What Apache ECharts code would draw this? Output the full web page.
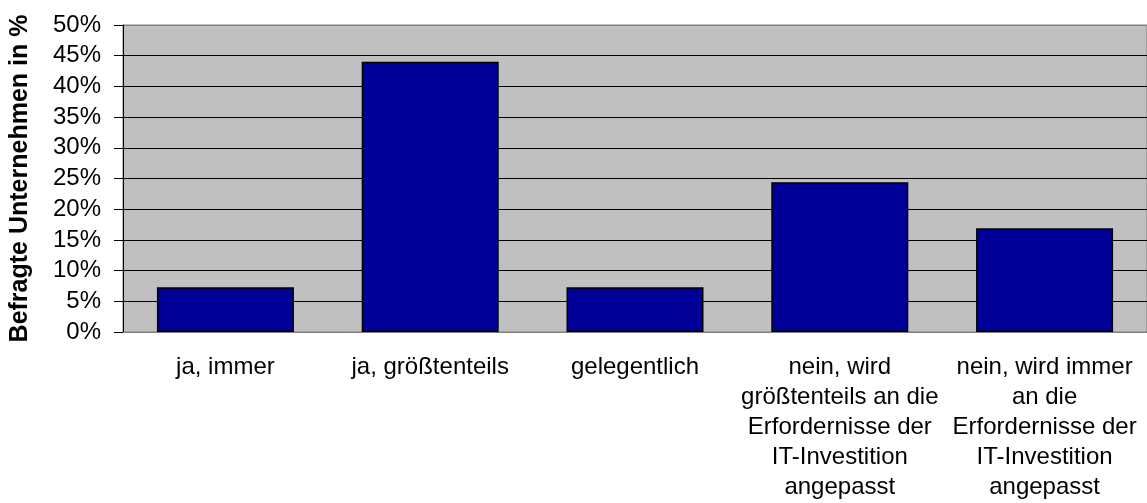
<!DOCTYPE html>
<html>
<head>
<meta charset="utf-8">
<script src="https://cdn.jsdelivr.net/npm/echarts@6/dist/echarts.min.js"></script>
<style>
html,body{margin:0;padding:0;background:#fff;overflow:hidden;}
#c{width:1147px;height:503px;}
</style>
</head>
<body>
<div id="c"></div>
<script>
const categories = [
  "ja, immer",
  "ja, größtenteils",
  "gelegentlich",
  "nein, wird\ngrößtenteils an die\nErfordernisse der\nIT-Investition\nangepasst",
  "nein, wird immer\nan die\nErfordernisse der\nIT-Investition\nangepasst"
];
const values = [7.3, 44.0, 7.3, 24.4, 16.9];
const yAxisTitle = "Befragte Unternehmen in %";

const FONT = 'Liberation Sans, Arial, sans-serif';
const chart = echarts.init(document.getElementById('c'), null, {renderer: 'canvas'});
const gridColors = ['#808080','#000','#000','#000','#000','#000','#000','#000','#000','#000','#808080'];
chart.setOption({
  animation: false,
  textStyle: {fontFamily: FONT},
  grid: {
    left: 123, top: 25, width: 1030, height: 307,
    show: true, backgroundColor: '#c0c0c0', borderColor: '#808080', borderWidth: 1
  },
  xAxis: {
    type: 'category',
    data: categories,
    axisLine: {show: true, lineStyle: {color: '#808080', width: 1}},
    axisTick: {show: false},
    axisLabel: {
      interval: 0, color: '#000', fontSize: 24, lineHeight: 30, margin: 20,
      fontFamily: FONT
    }
  },
  yAxis: {
    type: 'value',
    min: 0, max: 50, interval: 5,
    name: yAxisTitle,
    nameLocation: 'middle',
    nameGap: 90,
    nameTextStyle: {fontSize: 25, fontWeight: 'bold', color: '#000', fontFamily: FONT},
    axisLine: {show: true, lineStyle: {color: '#000', width: 1}},
    axisTick: {show: true, length: 9, lineStyle: {color: '#000'}},
    axisLabel: {formatter: '{value}%', color: '#000', fontSize: 24, margin: 22,
      fontFamily: FONT},
    splitLine: {show: true, lineStyle: {color: gridColors, width: 1}}
  },
  series: [{
    type: 'bar',
    data: values,
    barWidth: 137,
    itemStyle: {color: '#000099', borderColor: '#000', borderWidth: 1.5}
  }]
});
</script>
</body>
</html>
